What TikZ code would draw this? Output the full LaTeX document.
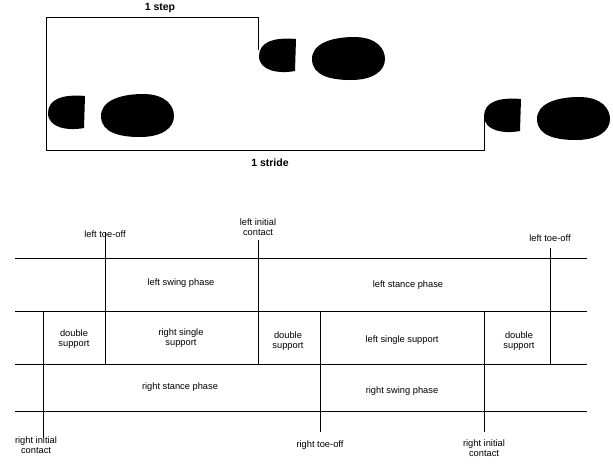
\documentclass[tikz,border=0pt]{standalone}
\usepackage{fontspec}
\setmainfont{Liberation Sans}
\begin{document}
\begin{tikzpicture}[x=1pt,y=-1pt,
  lbl/.style={font=\fontsize{9.3}{10.3}\selectfont,align=center,inner sep=1pt},
  bl/.style={font=\bfseries\fontsize{10.5}{11}\selectfont,inner sep=1pt},
  ln/.style={line width=0.6pt}]
\useasboundingbox (0,0) rectangle (613,467);
% top bracket
\draw[ln] (258,50) -- (258,17) -- (46,17) -- (46,150) -- (484,150) -- (484,115);
\node[bl] (step) at (160,8) {1 step};
\node[bl] (stride) at (270,163) {1 stride};
% footprints
\newcommand\foot[2]{%
 \begin{scope}[shift={(#1,#2)}]
 \fill (37,-1) -- (36,31) .. controls (20,34) and (0,31) .. (0,16) .. controls (0,2) and (15,-3) .. (37,-1) -- cycle;
 \fill (53,20) .. controls (52,4) and (72,-3) .. (95,-3) .. controls (118,-3) and (126,9) .. (126,19)
   .. controls (126,31) and (114,40) .. (92,40) .. controls (70,40) and (54,35) .. (53,20) -- cycle;
 \end{scope}}
\foot{48}{97}
\foot{259}{40}
\foot{484}{100}
% table lines
\foreach \y in {258,311,364,411} \draw[ln] (15,\y) -- (587,\y);
\draw[ln] (105,232) -- (105,364);
\draw[ln] (258,240) -- (258,364);
\draw[ln] (550,248) -- (550,364);
\draw[ln] (43,311) -- (43,438);
\draw[ln] (320,311) -- (320,432);
\draw[ln] (484,311) -- (484,432);
% labels
\node[lbl] (lto1) at (105,234) {left toe-off};
\node[lbl] (lic) at (258,227) {left initial\\contact};
\node[lbl] (lto2) at (550,238) {left toe-off};
\node[lbl] (ric1) at (36,445) {right initial\\contact};
\node[lbl] (rto) at (320,445) {right toe-off};
\node[lbl] (ric2) at (484,448) {right initial\\contact};
\node[lbl] (lsw) at (181,283) {left swing phase};
\node[lbl] (lst) at (408,285) {left stance phase};
\node[lbl] (ds1) at (74,339) {double\\support};
\node[lbl] (rss) at (181,338) {right single\\support};
\node[lbl] (ds2) at (288,341) {double\\support};
\node[lbl] (lss) at (402,340) {left single support};
\node[lbl] (ds3) at (519,341) {double\\support};
\node[lbl] (rst) at (180,387) {right stance phase};
\node[lbl] (rsw) at (402,391) {right swing phase};
\end{tikzpicture}
\end{document}
